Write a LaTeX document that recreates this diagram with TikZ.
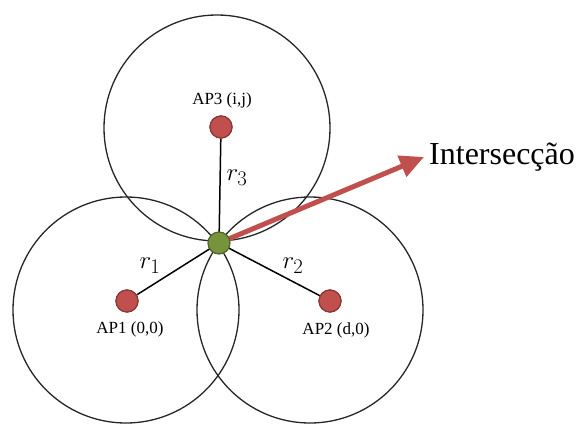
\documentclass[tikz,border=0pt]{standalone}
\usepackage{fontspec}
\setmainfont{Liberation Serif}
\usetikzlibrary{arrows.meta}
\definecolor{apred}{RGB}{192,80,77}
\definecolor{apreddark}{RGB}{140,56,54}
\definecolor{isgreen}{RGB}{119,147,60}
\definecolor{isgreendark}{RGB}{79,98,40}
\definecolor{arrowred}{RGB}{192,80,77}
\tikzset{
  rangecircle/.style={draw=black!85, line width=1.3pt},
  radiusline/.style={draw=black, line width=1.5pt},
  apdot/.style={circle, minimum size=22pt, inner sep=0pt, fill=apred, draw=apreddark, line width=1.2pt},
  isdot/.style={circle, minimum size=22pt, inner sep=0pt, fill=isgreen, draw=isgreendark, line width=1.2pt},
  aplabel/.style={font=\fontsize{17}{17}\selectfont, inner sep=0pt},
  rlabel/.style={font=\fontsize{31}{31}\selectfont, inner sep=0pt},
  pointer/.style={draw=arrowred, line width=5pt, -{Triangle[length=24pt,width=22pt]}}
}
\begin{document}
\begin{tikzpicture}[x=1pt,y=-1pt]
\useasboundingbox (0,0) rectangle (577,423);
% range circles
\draw[rangecircle] (217,128) circle (113);
\draw[rangecircle] (126,310) circle (113);
\draw[rangecircle] (310,310) circle (113);
% nodes
\node[apdot] (ap3) at (221,127) {};
\node[apdot] (ap1) at (127,301) {};
\node[apdot] (ap2) at (330,301) {};
\coordinate (isc) at (219,243);
\coordinate (tip) at (424,157);
% radius lines
\draw[radiusline] (isc) -- (ap3);
\draw[radiusline] (isc) -- (ap1);
\draw[radiusline] (isc) -- (ap2);
% arrow to label
\draw[pointer] (isc) -- (tip);
\node[isdot] (is) at (isc) {};
% redraw AP dots above lines
\node[apdot] at (ap3) {};
\node[apdot] at (ap1) {};
\node[apdot] at (ap2) {};
% labels
\node[aplabel] (l3) at (222,100) {AP3 (i,j)};
\node[aplabel] (l1) at (130,329) {AP1 (0,0)};
\node[aplabel] (l2) at (336,330) {AP2 (d,0)};
\node[rlabel] (r3) at (237,178) {$r_3$};
\node[rlabel] (r1) at (150,266) {$r_1$};
\node[rlabel] (r2) at (293,266) {$r_2$};
\node[anchor=base west, inner sep=0pt, font=\fontsize{32}{32}\selectfont] (txt) at (429,164) {Intersecção};
\end{tikzpicture}
\end{document}
